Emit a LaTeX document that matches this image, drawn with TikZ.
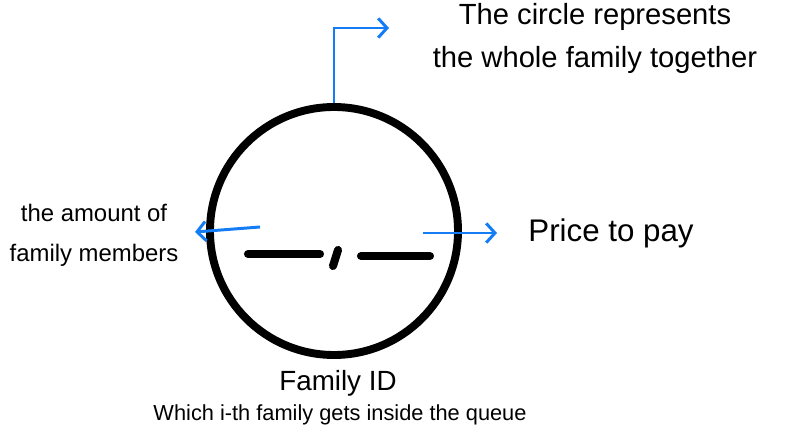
\documentclass[tikz,border=0pt]{standalone}
\usepackage{fontspec}
\setmainfont{Liberation Sans}
\usepackage{tikz}
\usetikzlibrary{arrows.meta}
\definecolor{callblue}{RGB}{20,125,245}
\tikzset{
  callout/.style={draw=callblue,line width=1.7pt,-{Straight Barb[length=5pt,width=11pt,line width=1.7pt]}},
  bar/.style={line width=4.6pt,line cap=round},
  lbl/.style={inner sep=0,align=center}
}
\begin{document}
\begin{tikzpicture}
  \useasboundingbox (0,0) rectangle (15.82,8.6);
  % the family circle
  \node[circle,draw,line width=4.5pt,inner sep=0,minimum size=4.96cm] (fam) at (6.68,3.98) {};
  % blanks inside: members , price
  \coordinate (ma) at (4.96,3.52); \coordinate (mb) at (6.4,3.52);
  \coordinate (ca) at (6.76,3.6);  \coordinate (cb) at (6.66,3.28);
  \coordinate (pa) at (7.22,3.48); \coordinate (pb) at (8.6,3.48);
  \draw[bar] (ma) -- (mb);
  \draw[bar] (ca) -- (cb);
  \draw[bar] (pa) -- (pb);
  % labels
  \node[lbl,font=\fontsize{16.6}{24.5}\selectfont] (whole) at (11.9,7.84)
    {The circle represents\\the whole family together};
  \node[lbl,font=\fontsize{13.6}{22.8}\selectfont] (amount) at (1.88,3.9)
    {the amount of\\family members};
  \node[lbl,font=\fontsize{17.8}{20}\selectfont] (price) at (12.22,3.94) {Price to pay};
  \node[lbl,font=\fontsize{15.8}{18}\selectfont] (famid) at (6.76,0.94) {Family ID};
  \node[lbl,font=\fontsize{12.4}{14}\selectfont] (famsub) at (6.8,0.3)
    {Which i-th family gets inside the queue};
  % blue callouts
  \coordinate (topend) at (7.78,8.04);
  \coordinate (lstart) at (5.2,4.06);  \coordinate (lend) at (3.9,3.96);
  \coordinate (rstart) at (8.46,3.94); \coordinate (rend) at (9.94,3.94);
  \draw[callout] (fam.north) |- (topend);
  \draw[callout] (lstart) -- (lend);
  \draw[callout] (rstart) -- (rend);
\end{tikzpicture}
\end{document}
